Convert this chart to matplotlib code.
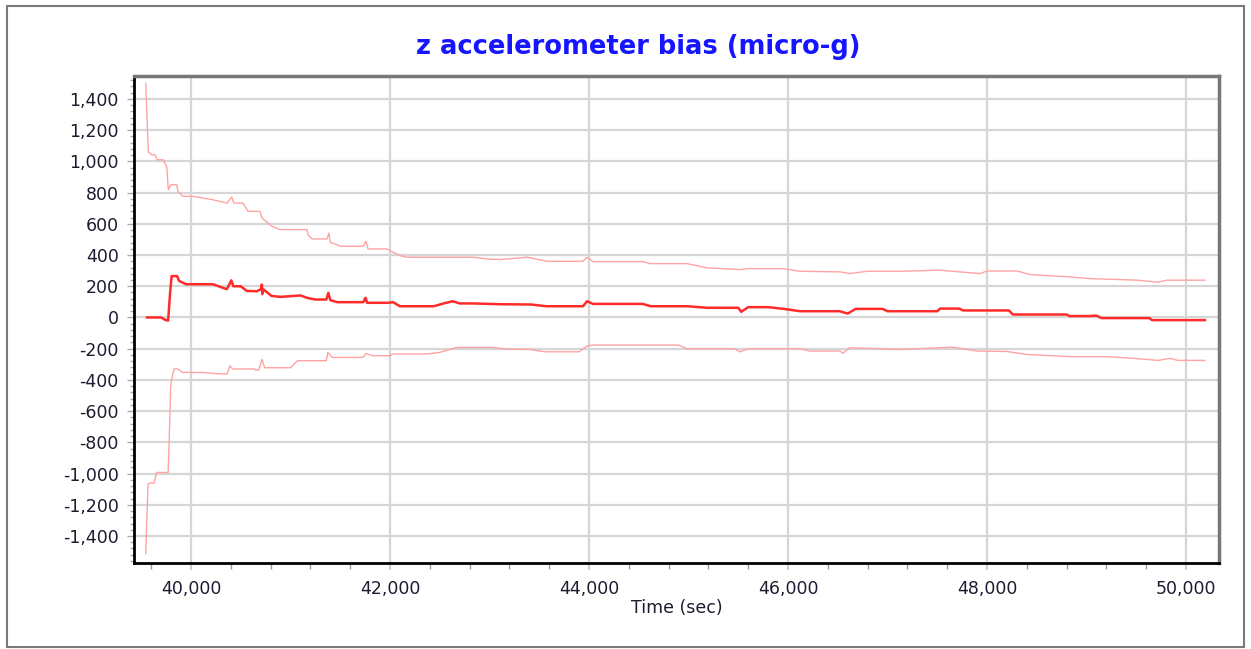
import matplotlib
matplotlib.use("Agg")
import matplotlib.pyplot as plt
from matplotlib.patches import Rectangle
from matplotlib.ticker import MultipleLocator, FuncFormatter

# mean bias estimate (micro-g) vs time (sec)
mean_t = [39558, 39700, 39740, 39770, 39790, 39805, 39860, 39880, 39950, 40220,
          40360, 40405, 40425, 40500, 40560, 40660, 40700, 40712, 40716, 40730,
          40810, 40900, 41100, 41170, 41250, 41360, 41380, 41400, 41470, 41730,
          41755, 41770, 41980, 42030, 42100, 42440, 42540, 42630, 42700, 42830,
          43100, 43420, 43570, 43940, 43980, 44040, 44540, 44620, 44990, 45190,
          45500, 45530, 45600, 45800, 45960, 46120, 46520, 46600, 46680, 46950,
          47000, 47500, 47530, 47720, 47760, 48220, 48260, 48800, 48830, 49030,
          49100, 49150, 49630, 49660, 50190]
mean_v = [0, 0, -15, -20, 160, 265, 265, 234, 213, 213,
          181, 238, 200, 200, 170, 168, 180, 211, 150, 179,
          138, 132, 141, 125, 115, 115, 158, 111, 98, 98,
          126, 94, 94, 98, 72, 72, 90, 104, 90, 90,
          85, 83, 72, 72, 104, 87, 87, 72, 72, 62,
          62, 36, 66, 66, 55, 40, 40, 25, 55, 55,
          40, 40, 57, 57, 45, 45, 19, 19, 9, 9,
          12, -4, -4, -17, -17]

# upper bound (+sigma)
upper_t = [39545, 39571, 39608, 39640, 39660, 39720, 39756, 39772, 39796, 39856,
           39869, 39920, 40020, 40221, 40362, 40409, 40430, 40523, 40573, 40693,
           40714, 40814, 40894, 41166, 41176, 41216, 41367, 41387, 41400, 41467,
           41497, 41729, 41759, 41779, 41970, 42030, 42101, 42171, 42834, 42975,
           43106, 43377, 43578, 43940, 43980, 44040, 44543, 44613, 44985, 45186,
           45518, 45600, 45950, 46121, 46523, 46623, 46794, 47126, 47528, 47930,
           48000, 48302, 48432, 48834, 49035, 49508, 49719, 49809, 50191]
upper_v = [1500, 1060, 1042, 1042, 1010, 1010, 967, 818, 850, 850,
           808, 776, 776, 754, 733, 772, 733, 733, 680, 680,
           637, 584, 563, 563, 531, 503, 503, 541, 480, 467,
           456, 456, 488, 439, 439, 418, 396, 386, 386, 375,
           371, 386, 360, 360, 386, 358, 358, 345, 345, 318,
           307, 313, 313, 296, 292, 281, 296, 296, 303, 281,
           298, 298, 275, 260, 249, 239, 226, 239, 239]

# lower bound (-sigma)
lower_t = [39545, 39568, 39590, 39630, 39655, 39770, 39780, 39796, 39813, 39830,
           39865, 39915, 40100, 40300, 40362, 40390, 40420, 40640, 40650, 40680,
           40714, 40740, 41000, 41070, 41360, 41375, 41420, 41729, 41759, 41830,
           42000, 42030, 42370, 42500, 42670, 43035, 43170, 43400, 43560, 43900,
           43980, 44040, 44900, 44985, 45460, 45520, 45600, 46121, 46220, 46523,
           46550, 46620, 47126, 47650, 47900, 48200, 48400, 48834, 49200, 49480,
           49719, 49840, 49920, 50191]
lower_v = [-1513, -1067, -1060, -1060, -993, -993, -800, -437, -373, -330,
           -330, -352, -352, -362, -362, -309, -330, -330, -337, -337,
           -268, -322, -322, -277, -277, -224, -256, -256, -231, -245,
           -245, -234, -234, -224, -192, -192, -203, -205, -220, -220,
           -183, -177, -177, -200, -200, -220, -200, -200, -215, -215,
           -230, -194, -205, -190, -215, -218, -237, -251, -251, -262,
           -275, -262, -275, -275]

W, H = 1251, 649
fig = plt.figure(figsize=(W / 100, H / 100), dpi=100)
fig.patches.append(Rectangle((7 / W, 2 / H), 1237 / W, 641 / H, transform=fig.transFigure,
                             fill=False, edgecolor="#7a7a7a", linewidth=1.5))

ax = fig.add_axes([134 / W, 86 / H, 1085 / W, 487 / H])
ax.plot(upper_t, upper_v, color="#ffa3a3", linewidth=1.0, zorder=3)
ax.plot(lower_t, lower_v, color="#ffa3a3", linewidth=1.0, zorder=3)
ax.plot(mean_t, mean_v, color="#ff2b2b", linewidth=1.8, zorder=4)

ax.set_xlim(39427, 50332)
ax.set_ylim(-1573, 1547)
ax.xaxis.set_major_locator(MultipleLocator(2000))
ax.xaxis.set_minor_locator(MultipleLocator(400))
ax.yaxis.set_major_locator(MultipleLocator(200))
ax.yaxis.set_minor_locator(MultipleLocator(40))
fmt = FuncFormatter(lambda v, p: "{:,.0f}".format(v))
ax.xaxis.set_major_formatter(fmt)
ax.yaxis.set_major_formatter(fmt)
ax.grid(True, which="major", color="#d6d6d6", linewidth=1.6, zorder=0)
ax.set_axisbelow(True)

for s in ("left", "bottom"):
    ax.spines[s].set_color("black")
    ax.spines[s].set_linewidth(2.0)
for s in ("top", "right"):
    ax.spines[s].set_color("#777777")
    ax.spines[s].set_linewidth(2.5)

lab = "#1c1c30"
ax.tick_params(axis="y", which="major", length=5, width=1, color="#aaaaaa",
               labelsize=12.5, labelcolor=lab, pad=6)
ax.tick_params(axis="y", which="minor", length=3, width=1, color="#aaaaaa")
ax.tick_params(axis="x", which="major", length=5, width=1.5, color="#d0d0d0",
               labelsize=12.5, labelcolor=lab, pad=7)
ax.tick_params(axis="x", which="minor", length=4, width=1, color="#999999")

ax.set_xlabel("Time (sec)", fontsize=12.5, color=lab, labelpad=1)
fig.text(638 / W, 1 - 47 / H, "z accelerometer bias (micro-g)", ha="center", va="center",
         fontsize=18.5, fontweight="bold", color="#1515ff")

fig.savefig("out.png", dpi=100)
